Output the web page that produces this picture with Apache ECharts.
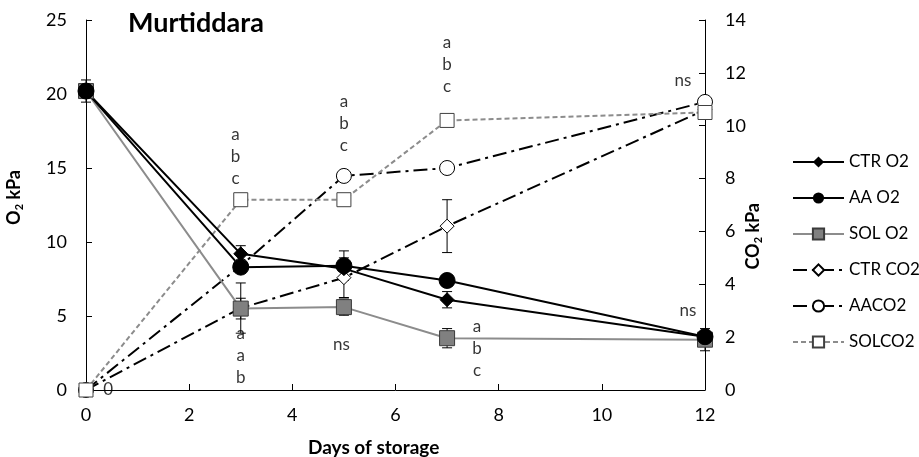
<!DOCTYPE html>
<html>
<head>
<meta charset="utf-8">
<script src="https://cdn.jsdelivr.net/npm/echarts@6/dist/echarts.min.js"></script>
<style>
  html, body { margin: 0; padding: 0; background: #fff; }
  #chart { width: 919px; height: 457px; }
</style>
</head>
<body>
<div id="chart"></div>
<script>
// days of storage
var days = [0, 3, 5, 7, 12];

// O2 (kPa, left axis)
var ctrO2 = [20.2, 9.2, 8.2, 6.1, 3.6];
var aaO2 = [20.2, 8.3, 8.4, 7.4, 3.6];
var solO2 = [20.2, 5.5, 5.6, 3.5, 3.4];

// CO2 (kPa, right axis)
var ctrCO2 = [0, 3.1, 4.25, 6.2, 10.6];
var aaCO2 = [0, 4.7, 8.1, 8.4, 10.9];
var solCO2 = [0, 7.2, 7.2, 10.2, 10.5];

// error bars [day, low, high]
var o2Err = [[0, 19.45, 20.95], [3, 8.65, 9.75], [3, 4.8, 6.2], [5, 7.4, 9.4],
             [5, 5.05, 6.15], [7, 5.55, 6.65], [7, 2.85, 4.15], [12, 2.65, 4.15]];
var co2Err = [[3, 2.15, 4.05], [5, 3.5, 5.0], [7, 5.2, 7.2], [12, 10.35, 11.05]];

// significance letters
var annoX = [2.9, 5, 7, 3, 4.95, 7.58, 11.57, 11.67, 0.43];
var annoY = [15.8, 18.0, 22.0, 2.3, 3.1, 2.77, 20.9, 5.4, 0];
var annoText = ['a\nb\nc', 'a\nb\nc', 'a\nb\nc', 'a\na\nb', 'ns', 'a\nb\nc', 'ns', 'ns', '0'];

var legendNames = ['CTR O2', 'AA O2', 'SOL O2', 'CTR CO2', 'AACO2', 'SOLCO2'];

var FONT = 'Lato';

function pairs(ys) {
    return days.map(function (d, i) { return [d, ys[i]]; });
}

function errorSeries(data, axisIndex) {
    return {
        type: 'custom',
        yAxisIndex: axisIndex,
        silent: true,
        z: 1,
        data: data,
        renderItem: function (params, api) {
            var lo = api.coord([api.value(0), api.value(1)]);
            var hi = api.coord([api.value(0), api.value(2)]);
            var w = 5;
            var st = { stroke: '#000', lineWidth: 1 };
            return {
                type: 'group',
                children: [
                    { type: 'line', shape: { x1: lo[0], y1: lo[1], x2: hi[0], y2: hi[1] }, style: st },
                    { type: 'line', shape: { x1: lo[0] - w, y1: lo[1], x2: lo[0] + w, y2: lo[1] }, style: st },
                    { type: 'line', shape: { x1: hi[0] - w, y1: hi[1], x2: hi[0] + w, y2: hi[1] }, style: st }
                ]
            };
        }
    };
}

var myChart = echarts.init(document.getElementById('chart'));

var option = {
    backgroundColor: '#fff',
    animation: false,
    textStyle: { fontFamily: FONT },
    title: {
        text: 'Murtiddara',
        left: 128, top: 10, padding: 0,
        textStyle: { fontFamily: FONT, fontSize: 27, fontWeight: 'bold', color: '#000' }
    },
    grid: { left: 86, right: 214, top: 20, bottom: 67 },
    legend: {
        data: legendNames,
        orient: 'vertical',
        left: 792, top: 152, padding: 0,
        itemWidth: 51, itemHeight: 14, itemGap: 16,
        textStyle: { fontFamily: FONT, fontSize: 17, color: '#000', lineHeight: 20 }
    },
    xAxis: {
        type: 'value',
        min: 0, max: 12, interval: 2,
        axisLine: { lineStyle: { color: '#000', width: 1 } },
        axisTick: { inside: true, length: 6, lineStyle: { color: '#000' } },
        axisLabel: { margin: 16, fontFamily: FONT, fontSize: 18, color: '#000' },
        splitLine: { show: false }
    },
    yAxis: [{
        type: 'value',
        min: 0, max: 25, interval: 5,
        axisLine: { show: true, lineStyle: { color: '#000', width: 1 } },
        axisTick: { show: true, inside: true, length: 6, lineStyle: { color: '#000' } },
        axisLabel: { margin: 19, fontFamily: FONT, fontSize: 18, color: '#000' },
        splitLine: { show: false }
    }, {
        type: 'value',
        min: 0, max: 14, interval: 2,
        position: 'right',
        axisLine: { show: true, lineStyle: { color: '#000', width: 1 } },
        axisTick: { show: true, inside: true, length: 6, lineStyle: { color: '#000' } },
        axisLabel: { margin: 20, fontFamily: FONT, fontSize: 18, color: '#000' },
        splitLine: { show: false }
    }],
    graphic: [{
        type: 'text', left: 5, top: 170, rotation: Math.PI / 2,
        style: {
            text: '{b|O}{s|2}{b| kPa}',
            rich: {
                b: { fontFamily: FONT, fontSize: 18, fontWeight: 'bold', fill: '#000', lineHeight: 22, verticalAlign: 'bottom' },
                s: { fontFamily: FONT, fontSize: 11, fontWeight: 'bold', fill: '#000', lineHeight: 22, verticalAlign: 'bottom', padding: [0, 0, -2, 0] }
            }
        }
    }, {
        type: 'text', left: 744, top: 203, rotation: Math.PI / 2,
        style: {
            text: '{b|CO}{s|2}{b| kPa}',
            rich: {
                b: { fontFamily: FONT, fontSize: 18, fontWeight: 'bold', fill: '#000', lineHeight: 22, verticalAlign: 'bottom' },
                s: { fontFamily: FONT, fontSize: 11, fontWeight: 'bold', fill: '#000', lineHeight: 22, verticalAlign: 'bottom', padding: [0, 0, -2, 0] }
            }
        }
    }, {
        type: 'text', left: 308, top: 438,
        style: { text: 'Days of storage', fontFamily: FONT, fontSize: 19, fontWeight: 'bold', fill: '#000' }
    }],
    series: [
        errorSeries(o2Err, 0),
        errorSeries(co2Err, 1),
        {
            name: 'CTR CO2', type: 'line', yAxisIndex: 1, data: pairs(ctrCO2),
            symbol: 'diamond', symbolSize: 14, showAllSymbol: true,
            lineStyle: { color: '#000', width: 2, type: [14, 5, 3, 5] },
            itemStyle: { color: '#fff', borderColor: '#000', borderWidth: 1 }
        },
        {
            name: 'AACO2', type: 'line', yAxisIndex: 1, data: pairs(aaCO2),
            symbol: 'circle', symbolSize: 15,
            lineStyle: { color: '#000', width: 2, type: [14, 5, 3, 5] },
            itemStyle: { color: '#fff', borderColor: '#000', borderWidth: 1 }
        },
        {
            name: 'SOLCO2', type: 'line', yAxisIndex: 1, data: pairs(solCO2),
            symbol: 'rect', symbolSize: 14,
            lineStyle: { color: '#8c8c8c', width: 2, type: [5, 3] },
            itemStyle: { color: '#fff', borderColor: '#404040', borderWidth: 1 }
        },
        {
            name: 'SOL O2', type: 'line', yAxisIndex: 0, data: pairs(solO2),
            symbol: 'rect', symbolSize: 15,
            lineStyle: { color: '#8c8c8c', width: 2 },
            itemStyle: { color: '#808080', borderColor: '#3a3a3a', borderWidth: 1 }
        },
        {
            name: 'AA O2', type: 'line', yAxisIndex: 0, data: pairs(aaO2),
            symbol: 'circle', symbolSize: 16,
            lineStyle: { color: '#000', width: 2 },
            itemStyle: { color: '#000', borderColor: '#000' }
        },
        {
            name: 'CTR O2', type: 'line', yAxisIndex: 0, data: pairs(ctrO2),
            symbol: 'diamond', symbolSize: 14,
            lineStyle: { color: '#000', width: 2 },
            itemStyle: { color: '#000', borderColor: '#000' }
        },
        {
            type: 'scatter', yAxisIndex: 0, silent: true,
            symbolSize: 0,
            data: annoX.map(function (x, i) { return { value: [x, annoY[i]], label: { formatter: annoText[i] } }; }),
            label: {
                show: true, position: 'inside',
                fontFamily: FONT, fontSize: 17, lineHeight: 22, color: '#000', align: 'center'
            },
            z: 5
        }
    ]
};

option && myChart.setOption(option);
</script>
</body>
</html>
